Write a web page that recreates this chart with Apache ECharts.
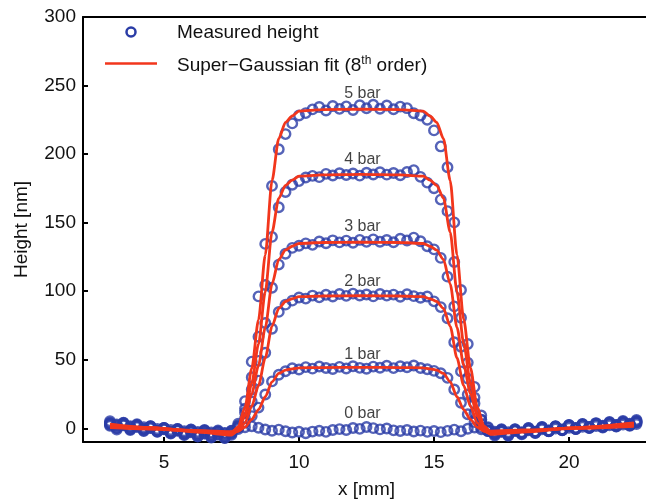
<!DOCTYPE html>
<html>
<head>
<meta charset="utf-8">
<script src="https://cdn.jsdelivr.net/npm/echarts@6/dist/echarts.min.js"></script>
<style>html,body{margin:0;padding:0;background:#fff}#c{width:646px;height:500px}</style>
</head>
<body>
<div id="c"></div>
<script>
// Measurement positions (mm)
const xs = [
3,3.25,3.5,3.75, 4,4.25,4.5,4.75, 5,5.25,5.5,5.75, 6,6.25,6.5,6.75,
7,7.25,7.5,7.75, 8,8.25,8.5,8.75, 9,9.25,9.5,9.75, 10,10.25,10.5,10.75,
11,11.25,11.5,11.75, 12,12.25,12.5,12.75, 13,13.25,13.5,13.75,
14,14.25,14.5,14.75, 15,15.25,15.5,15.75, 16,16.25,16.5,16.75,
17,17.25,17.5,17.75, 18,18.25,18.5,18.75, 19,19.25,19.5,19.75,
20,20.25,20.5,20.75, 21,21.25,21.5,21.75, 22,22.25,22.5];

// Measured heights (nm) for 0..5 bar
const h0 = [
3.5,2.8,3.9,1.5, 2.2,0.8,1.6,-0.5, 0.3,-1.2,-0.4,-2.1, -1.0,-2.6,-1.5,-3.0,
-2.2,-3.4,-1.8,-0.5, 0.8,1.5,0.4,-0.9, -1.8,-1.0,-2.2,-3.1, -2.5,-3.6,-2.4,-1.8,
-2.6,-1.3,-0.6,-1.2, 0.2,-0.4,0.9,0.1, -0.8,-0.2,-1.5,-2.0,
-1.2,-2.3,-1.7,-2.6, -2.0,-2.8,-1.9,-1.0, -2.2,-0.3,0.6,-0.8,
-1.6,-2.4,-1.1,-2.8, -1.9,-3.2,-1.4,-2.5, -0.7,-1.8,-0.2,-1.3,
0.4,-0.6,1.1,0.2, 1.7,0.6,2.1,1.2, 2.8,1.8,3.1];
const h1 = [
3.2,0.4,2.1,-0.6, 1.8,-0.9,1.2,-1.8, 0.3,-2.5,-0.4,-3.1, -0.8,-3.6,-1.2,-4.0,
-1.5,-3.8,-1.9,0.5, 4.2,8.9,15.1,24.6, 34.2,39.1,41.6,43.8, 42.9,44.6,43.5,45.1,
44.0,43.2,44.8,43.6, 45.3,44.1,43.4,45.0, 44.2,45.6,43.9,45.2,
44.5,45.8,44.0,43.1, 41.9,40.2,36.8,28.3, 18.6,10.2,4.5,0.6,
-2.1,-3.8,-1.5,-4.2, -0.9,-3.5,-0.4,-2.8, 0.5,-2.0,1.1,-1.2,
1.9,-0.5,2.4,0.3, 2.8,0.9,3.3,1.5, 3.9,2.2,4.3];
const h2 = [
4.1,1.8,3.0,0.2, 2.4,-0.6,1.0,-1.9, -0.2,-2.8,-1.1,-3.6, -2.0,-4.5,-2.6,-5.2,
-3.1,-5.6,-3.4,0.9, 7.2,19.5,34.8,55.1, 72.6,84.9,90.2,93.1, 95.4,94.6,96.8,95.5,
97.4,96.1,97.9,96.6, 98.2,96.9,97.6,96.2, 98.0,96.8,97.5,96.0,
97.8,96.4,95.2,96.1, 92.6,88.4,80.3,62.8, 41.5,24.6,11.2,2.9,
-1.6,-4.6,-2.3,-4.9, -1.7,-4.1,-0.8,-3.3, 0.2,-2.2,1.0,-1.4,
1.8,-0.3,2.6,0.6, 3.2,1.4,3.9,2.1, 4.5,2.7,4.8];
const h3 = [
1.8,-0.9,2.6,-1.3, 0.9,-2.0,0.2,-2.6, -0.6,-3.5,-1.3,-4.1, -1.8,-4.6,-2.0,-4.9,
-2.6,-5.3,-2.8,2.1, 11.6,28.3,49.2,76.8, 102.5,119.4,127.3,131.6, 133.2,134.9,133.8,136.2,
135.0,137.1,135.6,136.9, 135.3,137.4,136.0,137.8, 136.1,137.3,135.7,138.2,
137.0,139.1,136.4,132.8, 130.5,124.3,110.6,88.9, 59.4,36.2,18.1,6.3,
0.2,-3.1,-0.6,-3.7, -1.1,-2.9,0.3,-2.4, 0.8,-1.6,1.4,-1.0,
2.0,-0.2,2.7,0.5, 3.1,1.1,3.6,1.9, 4.0,2.3,4.4];
const h4 = [
5.2,2.0,4.1,0.9, 3.0,-0.4,1.6,-1.8, 0.1,-3.3,-1.4,-4.6, -2.5,-5.8,-3.6,-6.4,
-4.3,-6.9,-4.8,1.6, 14.3,37.2,66.8,104.5, 139.6,161.2,172.4,177.6, 180.3,182.9,184.1,183.2,
185.6,184.4,186.0,184.7, 185.9,184.3,186.4,185.1, 186.8,185.0,186.2,184.6,
186.9,188.3,183.4,179.2, 175.1,166.8,158.4,121.3, 80.6,47.9,22.4,6.1,
-1.8,-5.2,-2.6,-5.5, -1.9,-4.3,-0.9,-3.4, 0.3,-2.1,1.2,-1.1,
2.3,0.1,3.0,1.0, 3.8,1.8,4.6,2.5, 5.3,3.4,6.0];
const h5 = [
2.6,0.1,3.3,-0.8, 1.5,-1.6,0.4,-2.4, -0.7,-3.9,-1.9,-5.0, -2.9,-6.1,-3.8,-6.7,
-4.6,-7.2,-3.9,3.4, 19.8,48.6,96.2,134.5, 176.8,203.5,214.6,222.4, 228.1,229.9,232.6,234.3,
231.8,235.1,233.0,234.8, 232.2,235.6,233.4,236.0, 233.1,235.4,232.7,234.6,
233.5,229.8,228.2,225.1, 217.3,205.6,190.4,150.2, 100.9,61.5,30.2,9.3,
0.8,-4.1,-1.6,-4.8, -0.7,-3.6,0.1,-2.9, 0.9,-1.7,1.6,-0.8,
2.4,0.2,3.1,1.0, 3.5,1.6,4.2,2.3, 4.8,2.9,5.4];

// Super-Gaussian fit curves (1..5 bar)
const fitX = [3,4.35,6.35,7.5,7.75,8,8.25,8.5,8.75,9,9.25,9.5,9.75,10,10.85,12.3,13.75,14.6,14.85,15.1,15.35,15.6,15.85,16.1,16.35,16.6,16.85,17.1,18.3,20.3,22.4];
const f1 = [1.5,0.2,-1.9,-3,-2.1,0.8,6.5,13.6,23.0,33.9,40.0,42.4,43.4,44.1,44.3,44.5,44.3,44.1,43.4,42.4,40.0,33.9,23.0,13.6,6.5,0.8,-2.1,-3,-1.8,0.3,2.5];
const f2 = [2.5,0.6,-2.3,-4,-2.0,4.0,16.1,31.2,51.3,74.4,87.4,92.5,94.5,96.0,96.5,96.8,96.5,96.0,94.5,92.5,87.4,74.4,51.3,31.2,16.1,4.0,-2.0,-4,-2.4,0.5,3.5];
const f3 = [0.5,-0.4,-1.7,-2.5,0.3,8.5,25.1,45.8,73.4,105.1,123.1,130.0,132.8,134.8,135.5,135.8,135.5,134.8,132.8,130.0,123.1,105.2,73.6,46.1,25.5,9.0,0.8,-2,-1.2,0.1,1.5];
const f4 = [3,0.6,-3.0,-5,-1.2,10.2,33.0,61.4,99.4,143.0,167.7,177.2,181.0,183.9,184.8,185.2,184.8,183.9,181.0,177.2,167.8,143.1,99.6,61.8,33.4,10.6,-0.7,-4.5,-2.7,0.5,4];
const f5 = [1,-0.4,-2.3,-3.5,1.2,15.4,43.7,79.1,126.3,180.6,211.3,223.1,227.8,231.3,232.5,232.8,232.5,231.3,227.8,223.1,211.3,180.7,126.5,79.4,44.1,15.8,1.7,-3,-1.9,0,2];

// Curve annotations
const barLabels = ['0 bar','1 bar','2 bar','3 bar','4 bar','5 bar'];
const labelX = [12.35,12.35,12.35,12.35,12.35,12.35];
const labelY = [10.5,54,107,147,196,244];

const xTicks = [5,10,15,20];
const yTicks = [0,50,100,150,200,250,300];

const BLUE = '#2a3ca6';
const RED = '#f2361c';
const FONT = '"Liberation Sans", Arial, Helvetica, sans-serif';
const TXT = '#111';

const measured = [h0,h1,h2,h3,h4,h5];
const fits = [f1,f2,f3,f4,f5];

const series = [];
measured.forEach(function (h) {
  series.push({
    type: 'scatter', name: 'Measured height',
    data: xs.map(function (x, i) { return [x, h[i]]; }),
    symbol: 'circle', symbolSize: 9.5,
    itemStyle: { color: 'rgba(0,0,0,0)', borderColor: BLUE, borderWidth: 2.4 },
    emphasis: { disabled: true }, silent: true, z: 2
  });
});
fits.forEach(function (f) {
  series.push({
    type: 'line', name: 'Super-Gaussian fit',
    data: fitX.map(function (x, i) { return [x, f[i]]; }),
    showSymbol: false, smooth: 0.25, smoothMonotone: 'x',
    lineStyle: { color: RED, width: 2.8 },
    emphasis: { disabled: true }, silent: true, z: 3
  });
});
series.push({
  type: 'scatter', name: 'labels',
  data: barLabels.map(function (t, i) { return [labelX[i], labelY[i], t]; }),
  symbolSize: 0, silent: true, z: 4,
  label: { show: true, position: 'inside', formatter: function (p) { return p.value[2]; },
    fontFamily: FONT, fontSize: 16, color: TXT }
});

const chart = echarts.init(document.getElementById('c'), null, { renderer: 'canvas' });
chart.setOption({
  animation: false,
  backgroundColor: '#fff',
  grid: { left: 83, right: -4, top: 17, bottom: 58, containLabel: false, outerBoundsMode: 'none' },
  xAxis: [{
    type: 'value', min: 2, max: 23,
    name: 'x [mm]', nameLocation: 'middle', nameGap: 38,
    nameTextStyle: { fontFamily: FONT, fontSize: 19, color: TXT },
    axisLine: { show: true, onZero: false, lineStyle: { color: '#000', width: 2 } },
    axisTick: { show: true, inside: true, length: 5, lineStyle: { color: '#000', width: 2 }, customValues: xTicks },
    axisLabel: { fontFamily: FONT, fontSize: 19, color: TXT, margin: 11, customValues: xTicks },
    splitLine: { show: false }
  }, {
    type: 'value', min: 2, max: 23, position: 'top',
    axisLine: { show: true, onZero: false, lineStyle: { color: '#000', width: 2 } },
    axisTick: { show: false }, axisLabel: { show: false }, splitLine: { show: false }
  }],
  yAxis: {
    type: 'value', min: -10, max: 300,
    name: 'Height [nm]', nameLocation: 'middle', nameGap: 52,
    nameTextStyle: { fontFamily: FONT, fontSize: 19, color: TXT },
    axisLine: { show: true, onZero: false, lineStyle: { color: '#000', width: 2 } },
    axisTick: { show: true, inside: true, length: 5, lineStyle: { color: '#000', width: 2 }, customValues: yTicks },
    axisLabel: { fontFamily: FONT, fontSize: 19, color: TXT, margin: 7, customValues: yTicks },
    splitLine: { show: false }
  },
  series: series,
  graphic: [
    { type: 'circle', shape: { cx: 131, cy: 32, r: 4.5 }, style: { fill: 'none', stroke: BLUE, lineWidth: 2.5 }, z: 10 },
    { type: 'text', x: 177, y: 33, style: { text: 'Measured height', font: '19px ' + FONT, fill: TXT, verticalAlign: 'middle' }, z: 10 },
    { type: 'line', shape: { x1: 105, y1: 63.5, x2: 157, y2: 63.5 }, style: { stroke: RED, lineWidth: 2.5 }, z: 10 },
    { type: 'text', x: 177, y: 66, style: {
        text: '{a|Super\u2212Gaussian fit (8}{s|th}{a| order)}',
        verticalAlign: 'middle', fill: TXT,
        rich: {
          a: { fontFamily: FONT, fontSize: 19, fill: TXT, lineHeight: 22 },
          s: { fontFamily: FONT, fontSize: 12, fill: TXT, verticalAlign: 'top', lineHeight: 22 }
        } }, z: 10 }
  ]
});
</script>
</body>
</html>
